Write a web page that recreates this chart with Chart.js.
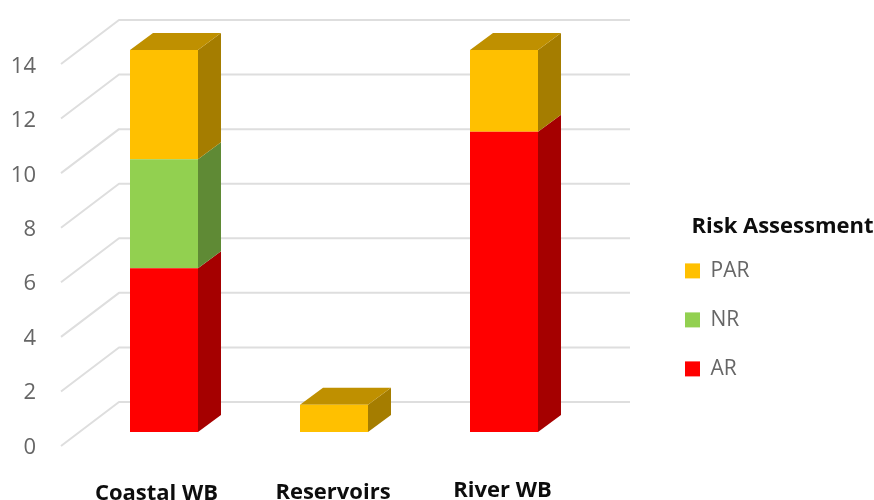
<!DOCTYPE html>
<html>
<head>
<meta charset="utf-8">
<style>html,body{margin:0;padding:0;background:#fff;overflow:hidden}canvas{display:block}</style>
<script src="https://cdn.jsdelivr.net/npm/chart.js@4"></script>
</head>
<body>
<canvas id="c" width="874" height="500"></canvas>
<script>
const categories = ['Coastal WB', 'Reservoirs', 'River WB'];
const AR = [6, 0, 11];
const NR = [4, 0, 0];
const PAR = [4, 1, 3];
const gridValues = [0, 2, 4, 6, 8, 10, 12, 14];
const FONT = '"Open Sans"';

const shades = {
  '#ff0000': {side: '#a50000', top: '#bf0000'},
  '#92d050': {side: '#5f8a35', top: '#6d9c3c'},
  '#ffc000': {side: '#a57d00', top: '#bf9000'}
};
const DX = 23, DY = 17;

const threeD = {
  id: 'threeD',
  afterLayout(chart) {
    const l = chart.legend;
    l.left = 657; l.width = 251; l.right = 908;
    l.top = 216; l.bottom = 480; l.height = 264;
  },
  beforeDraw(chart) {
    const items = chart.scales.x.getLabelItems();
    if (!items._moved) {
      const dx = [-7.5, -1, -1.5], dy = [1.5, 0.5, -1.5];
      items.forEach((it, i) => {
        it.options.translation = [it.options.translation[0] + dx[i], it.options.translation[1] + dy[i]];
      });
      items._moved = true;
    }
    const yItems = chart.scales.yLabels.getLabelItems();
    if (!yItems._moved) {
      yItems.forEach(it => {
        it.options.translation = [it.options.translation[0], it.options.translation[1] + 2.5];
      });
      yItems._moved = true;
    }
  },
  beforeDatasetsDraw(chart) {
    const ctx = chart.ctx, y = chart.scales.y;
    ctx.save();
    ctx.strokeStyle = '#dedede';
    ctx.lineWidth = 2;
    ctx.lineJoin = 'round';
    gridValues.forEach(v => {
      const p = y.getPixelForValue(v);
      ctx.beginPath();
      ctx.moveTo(61, p + 14);
      ctx.lineTo(119, p - 30);
      ctx.lineTo(630, p - 30);
      ctx.stroke();
    });
    chart.data.datasets.forEach((ds, di) => {
      const c = shades[ds.backgroundColor];
      chart.getDatasetMeta(di).data.forEach((el, i) => {
        if (!ds.data[i]) return;
        const r = el.x + el.width / 2, l = el.x - el.width / 2;
        ctx.fillStyle = c.side;
        ctx.beginPath();
        ctx.moveTo(r, el.y);
        ctx.lineTo(r + DX, el.y - DY);
        ctx.lineTo(r + DX, el.base - DY);
        ctx.lineTo(r, el.base);
        ctx.closePath();
        ctx.fill();
        const later = chart.data.datasets.slice(di + 1).some(d => d.data[i]);
        if (!later) {
          ctx.fillStyle = c.top;
          ctx.beginPath();
          ctx.moveTo(l, el.y);
          ctx.lineTo(l + DX, el.y - DY);
          ctx.lineTo(r + DX, el.y - DY);
          ctx.lineTo(r, el.y);
          ctx.closePath();
          ctx.fill();
        }
      });
    });
    ctx.restore();
  }
};

new Chart(document.getElementById('c'), {
  type: 'bar',
  plugins: [threeD],
  data: {
    labels: categories,
    datasets: [
      {label: 'AR', data: AR, backgroundColor: '#ff0000', borderWidth: 0},
      {label: 'NR', data: NR, backgroundColor: '#92d050', borderWidth: 0},
      {label: 'PAR', data: PAR, backgroundColor: '#ffc000', borderWidth: 0}
    ]
  },
  options: {
    responsive: false,
    animation: false,
    devicePixelRatio: 1,
    layout: {padding: {top: 8, right: 285, left: 0, bottom: 0}},
    datasets: {bar: {categoryPercentage: 0.4, barPercentage: 1}},
    plugins: {
      tooltip: {enabled: false},
      legend: {
        position: 'chartArea',
        align: 'start',
        reverse: true,
        title: {display: true, text: 'Risk Assessment', position: 'center', color: '#0d0d0d',
                font: {family: FONT, size: 22, weight: 'bold'}, padding: {top: 0, bottom: -10}},
        labels: {boxWidth: 15, boxHeight: 15, padding: 28, color: '#666666',
                 font: {family: FONT, size: 21, weight: '500'}}
      }
    },
    scales: {
      x: {
        stacked: true,
        afterFit(s) { s.height = 55; s.paddingLeft = 0; s.paddingRight = 0; },
        grid: {display: false, drawTicks: false},
        border: {display: false},
        ticks: {padding: 34, maxRotation: 0, autoSkip: false, color: '#0d0d0d',
                font: {family: FONT, size: 22, weight: 'bold'}}
      },
      y: {
        stacked: true,
        display: false,
        min: -0.4764,
        max: 15.539
      },
      yLabels: {
        position: 'left',
        min: 0,
        max: 16.058,
        afterFit(s) { s.width = 79; s.paddingTop = 0; s.paddingBottom = 0; },
        afterBuildTicks(s) { s.ticks = gridValues.map(v => ({value: v})); },
        grid: {display: false, drawTicks: false},
        border: {display: false},
        ticks: {padding: 43, color: '#666666', font: {family: FONT, size: 22, weight: '500'}}
      }
    }
  }
});
</script>
</body>
</html>
